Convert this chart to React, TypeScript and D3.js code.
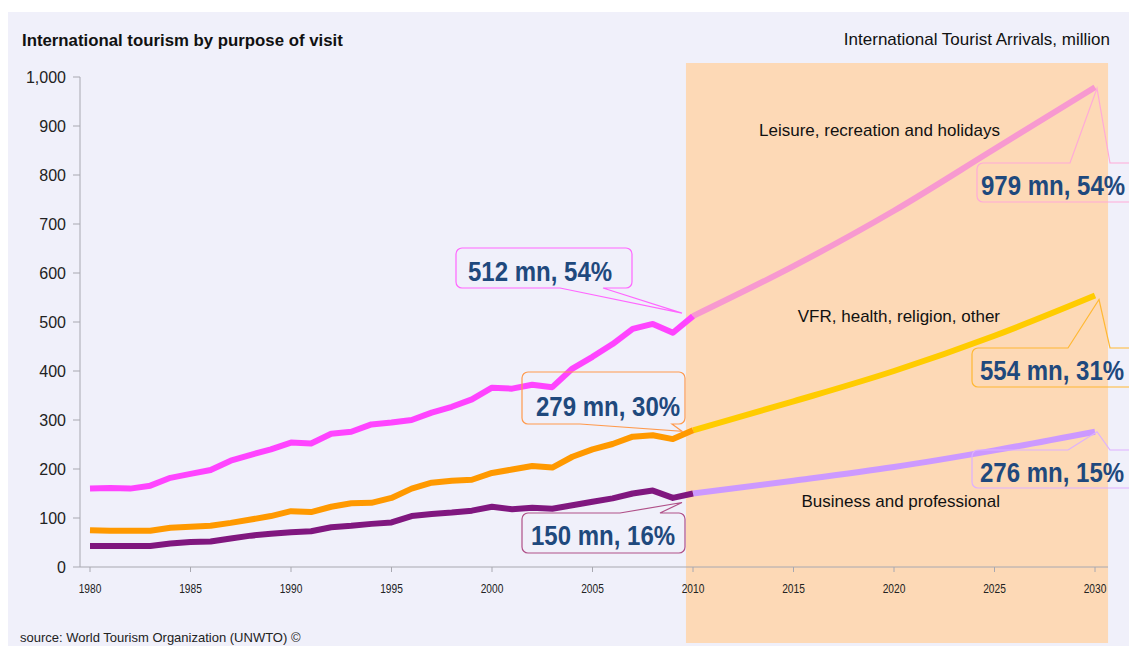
// @ts-nocheck
import { FC, useEffect, useRef } from "react";
import * as d3 from "d3";

const W = 1129;
const H = 646;

// historical series, 1980-2010 (million arrivals)
const histYears = d3.range(1980, 2011);
const leisureHist = [
  160, 161, 160, 166, 182, 190, 198, 217, 229, 240, 254, 252, 272, 276, 291,
  295, 300, 315, 327, 342, 366, 364, 372, 367, 405, 429, 455, 486, 496, 478, 512,
];
const vfrHist = [
  75, 74, 74, 74, 80, 82, 84, 90, 97, 104, 114, 112, 123, 130, 131, 141, 160,
  172, 176, 178, 192, 199, 206, 203, 225, 240, 251, 266, 269, 261, 279,
];
const businessHist = [
  43, 43, 43, 43, 48, 51, 52, 58, 64, 68, 71, 73, 81, 84, 88, 91, 104, 108, 111,
  115, 123, 118, 121, 119, 126, 133, 140, 150, 156, 141, 150,
];

// projections 2010-2030
const projYears = [2010, 2015, 2020, 2025, 2030];
const leisureProj = [512, 614, 727, 853, 979];
const vfrProj = [279, 338, 400, 472, 554];
const businessProj = [150, 176, 204, 238, 276];

const yTicks = [0, 100, 200, 300, 400, 500, 600, 700, 800, 900, 1000];
const xTicks = [1980, 1985, 1990, 1995, 2000, 2005, 2010, 2015, 2020, 2025, 2030];

const seriesNames = [
  "Leisure, recreation and holidays",
  "VFR, health, religion, other",
  "Business and professional",
];
const callouts2010 = ["512 mn, 54%", "279 mn, 30%", "150 mn, 16%"];
const callouts2030 = ["979 mn, 54%", "554 mn, 31%", "276 mn, 15%"];

const FONT = "'Liberation Sans', Arial, sans-serif";
const BG = "#f0f0fa";
const BAND = "#fdd9b6";
const NAVY = "#1f497d";

// rounded box with a wedge pointer on its top or bottom edge
const calloutPath = (x, y, w, h, r, side, b1, b2, tx, ty) => {
  const p = d3.path();
  p.moveTo(x + r, y);
  if (side === "top") {
    p.lineTo(b1, y);
    p.lineTo(tx, ty);
    p.lineTo(b2, y);
  }
  p.lineTo(x + w - r, y);
  p.arcTo(x + w, y, x + w, y + r, r);
  p.lineTo(x + w, y + h - r);
  p.arcTo(x + w, y + h, x + w - r, y + h, r);
  if (side === "bottom") {
    p.lineTo(b2, y + h);
    p.lineTo(tx, ty);
    p.lineTo(b1, y + h);
  }
  p.lineTo(x + r, y + h);
  p.arcTo(x, y + h, x, y + h - r, r);
  p.lineTo(x, y + r);
  p.arcTo(x, y, x + r, y, r);
  p.closePath();
  return p.toString();
};

const App: FC = () => {
  const ref = useRef();

  useEffect(() => {
    document.body.style.margin = "0";
    const svg = d3.select(ref.current);
    svg.selectAll("*").remove();

    const x = d3.scaleLinear().domain([1980, 2030]).range([90, 1095]);
    const y = d3.scaleLinear().domain([0, 1000]).range([567, 77]);

    svg.append("rect").attr("x", 8).attr("y", 12).attr("width", W).attr("height", H).attr("fill", BG);

    // forecast band
    svg
      .append("rect")
      .attr("x", x(2009.65))
      .attr("y", 63)
      .attr("width", x(2030.65) - x(2009.65))
      .attr("height", 643 - 63)
      .attr("fill", BAND);

    // titles
    svg
      .append("text")
      .attr("x", 22)
      .attr("y", 46)
      .attr("font-family", FONT)
      .attr("font-size", 16.8)
      .attr("font-weight", "bold")
      .attr("fill", "#111")
      .text("International tourism by purpose of visit");
    svg
      .append("text")
      .attr("x", 1110)
      .attr("y", 45)
      .attr("text-anchor", "end")
      .attr("font-family", FONT)
      .attr("font-size", 17)
      .attr("fill", "#111")
      .text("International Tourist Arrivals, million");
    svg
      .append("text")
      .attr("x", 20)
      .attr("y", 642)
      .attr("font-family", FONT)
      .attr("font-size", 13)
      .attr("fill", "#222")
      .text("source: World Tourism Organization (UNWTO) ©");

    // axes
    const axisColor = "#a8a8b0";
    svg.append("line").attr("x1", 80).attr("x2", 80).attr("y1", y(1000)).attr("y2", y(0)).attr("stroke", axisColor);
    svg.append("line").attr("x1", 80).attr("x2", 1108).attr("y1", y(0)).attr("y2", y(0)).attr("stroke", axisColor);
    const yg = svg.append("g");
    yTicks.forEach((t) => {
      yg.append("line").attr("x1", 73).attr("x2", 80).attr("y1", y(t)).attr("y2", y(t)).attr("stroke", axisColor);
      yg.append("text")
        .attr("x", 66)
        .attr("y", y(t))
        .attr("dy", "0.35em")
        .attr("text-anchor", "end")
        .attr("font-family", FONT)
        .attr("font-size", 16)
        .attr("fill", "#222")
        .text(d3.format(",")(t));
    });
    const xg = svg.append("g");
    xTicks.forEach((t) => {
      xg.append("line").attr("x1", x(t)).attr("x2", x(t)).attr("y1", y(0)).attr("y2", y(0) + 5).attr("stroke", axisColor);
      xg.append("text")
        .attr("transform", `translate(${x(t)},593) scale(0.85,1)`)
        .attr("text-anchor", "middle")
        .attr("font-family", FONT)
        .attr("font-size", 12)
        .attr("fill", "#222")
        .text(t);
    });

    // lines
    const lineH = d3.line().x((d, i) => x(histYears[i])).y((d) => y(d));
    const lineP = d3
      .line()
      .x((d, i) => x(projYears[i]))
      .y((d) => y(d))
      .curve(d3.curveMonotoneX);

    const series = [
      { hist: leisureHist, proj: leisureProj, c1: "#ff44ff", c2: "#f799d0" },
      { hist: vfrHist, proj: vfrProj, c1: "#ff9900", c2: "#ffcc00" },
      { hist: businessHist, proj: businessProj, c1: "#80177f", c2: "#cc99ff" },
    ];
    series.forEach((s) => {
      svg.append("path").attr("d", lineP(s.proj)).attr("fill", "none").attr("stroke", s.c2).attr("stroke-width", 6);
      svg
        .append("path")
        .attr("d", lineH(s.hist))
        .attr("fill", "none")
        .attr("stroke", s.c1)
        .attr("stroke-width", 6)
        .attr("stroke-linejoin", "round");
    });

    // series names
    const nameY = [136, 322, 507];
    seriesNames.forEach((n, i) => {
      svg
        .append("text")
        .attr("x", 1000)
        .attr("y", nameY[i])
        .attr("text-anchor", "end")
        .attr("font-family", FONT)
        .attr("font-size", 17)
        .attr("fill", "#111")
        .text(n);
    });

    // callouts
    const x10 = x(2010);
    const x30 = x(2030);
    const boxes = [
      { t: callouts2010[0], bx: 456, by: 248, w: 176, h: 40, side: "bottom", b1: 560, b2: 603, tx: x10 - 11, ty: y(leisureHist[30]) - 3, c: "#ff66ff", tx0: 468, ty0: 281 },
      { t: callouts2010[1], bx: 522, by: 372, w: 163, h: 52, side: "bottom", b1: 580, b2: 672, tx: x10 - 11, ty: y(vfrHist[30]) + 1, c: "#ff9a4d", tx0: 536, ty0: 416 },
      { t: callouts2010[2], bx: 522, by: 513, w: 163, h: 40, side: "top", b1: 620, b2: 660, tx: x10 - 11, ty: y(businessHist[30]) + 9, c: "#b05088", tx0: 531, ty0: 545 },
      { t: callouts2030[0], bx: 977, by: 163, w: 200, h: 39, side: "top", b1: 1070, b2: 1110, tx: x30 + 2, ty: y(leisureProj[4]) + 1, c: "#ffaad8", tx0: 981, ty0: 195 },
      { t: callouts2030[1], bx: 972, by: 348, w: 200, h: 39, side: "top", b1: 1068, b2: 1110, tx: x30 + 4, ty: y(vfrProj[4]) + 4, c: "#ffb833", tx0: 980, ty0: 380 },
      { t: callouts2030[2], bx: 972, by: 450, w: 200, h: 38, side: "top", b1: 1068, b2: 1110, tx: x30 + 2, ty: y(businessProj[4]), c: "#ddb0ff", tx0: 980, ty0: 482 },
    ];
    boxes.forEach((b) => {
      svg
        .append("path")
        .attr("d", calloutPath(b.bx, b.by, b.w, b.h, 6, b.side, b.b1, b.b2, b.tx, b.ty))
        .attr("fill", "none")
        .attr("stroke", b.c)
        .attr("stroke-width", 1.2);
      svg
        .append("text")
        .attr("transform", `translate(${b.tx0},${b.ty0}) scale(0.89,1)`)
        .attr("font-family", FONT)
        .attr("font-size", 27)
        .attr("font-weight", "bold")
        .attr("fill", NAVY)
        .text(b.t);
    });
  }, []);

  return <svg ref={ref} width={W} height={H} style={{ display: "block" }} />;
};

export default App;
